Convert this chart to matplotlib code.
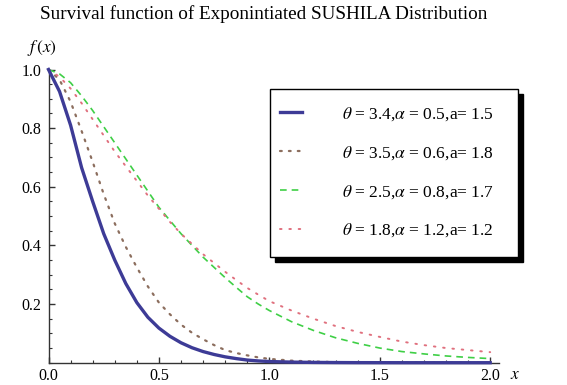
import matplotlib
matplotlib.use("Agg")
import matplotlib.pyplot as plt
import matplotlib.patches as patches
from matplotlib.ticker import MultipleLocator, FormatStrFormatter

plt.rcParams["font.family"] = ["Liberation Serif", "DejaVu Serif"]
plt.rcParams["mathtext.fontset"] = "stix"

# values
x_vals = [0.0, 0.05, 0.1, 0.15, 0.2, 0.25, 0.3, 0.35, 0.4, 0.45, 0.5,
          0.55, 0.6, 0.65, 0.7, 0.75, 0.8, 0.85, 0.9, 0.95, 1.0,
          1.1, 1.2, 1.3, 1.4, 1.5, 1.6, 1.7, 1.8, 1.9, 2.0]

surv_1 = [1.0, 0.925, 0.81, 0.665, 0.55, 0.44, 0.35, 0.27, 0.205, 0.155, 0.118,
          0.09, 0.068, 0.051, 0.038, 0.028, 0.02, 0.014, 0.009, 0.006, 0.004,
          0.002, 0.001, 0.0005, 0.0002, 0.0001, 0.0, 0.0, 0.0, 0.0, 0.0]

surv_2 = [1.0, 0.965, 0.89, 0.79, 0.685, 0.575, 0.475, 0.395, 0.325, 0.26, 0.205,
          0.165, 0.13, 0.102, 0.08, 0.06, 0.043, 0.033, 0.025, 0.018, 0.013,
          0.007, 0.004, 0.002, 0.001, 0.0005, 0.0003, 0.0002, 0.0001, 0.0, 0.0]

surv_3 = [1.0, 0.985, 0.955, 0.91, 0.86, 0.805, 0.75, 0.695, 0.64, 0.585, 0.53,
          0.485, 0.44, 0.4, 0.36, 0.325, 0.29, 0.257, 0.225, 0.2, 0.178,
          0.14, 0.11, 0.085, 0.066, 0.05, 0.038, 0.03, 0.023, 0.018, 0.014]

surv_4 = [1.0, 0.975, 0.935, 0.885, 0.83, 0.775, 0.72, 0.67, 0.62, 0.57, 0.525,
          0.48, 0.44, 0.405, 0.37, 0.34, 0.31, 0.282, 0.255, 0.232, 0.21,
          0.178, 0.15, 0.125, 0.105, 0.088, 0.072, 0.06, 0.05, 0.043, 0.036]

labels = [
    r"$\theta$ = 3.4,$\alpha$ = 0.5,a= 1.5",
    r"$\theta$ = 3.5,$\alpha$ = 0.6,a= 1.8",
    r"$\theta$ = 2.5,$\alpha$ = 0.8,a= 1.7",
    r"$\theta$ = 1.8,$\alpha$ = 1.2,a= 1.2",
]

W, H = 567, 385
fig = plt.figure(figsize=(W / 100, H / 100), dpi=100)
ax = fig.add_axes([48.5 / W, (H - 362.7) / H, (499 - 48.5) / W, (362.7 - 69.5) / H])

ax.plot(x_vals, surv_1, color="#3d3b96", lw=2.4, label=labels[0], clip_on=False, zorder=4)
ax.plot(x_vals, surv_2, color="#8c6e5e", lw=1.6, ls=(0, (0.8, 3.2)), label=labels[1],
        dash_capstyle="round", clip_on=False, zorder=3)
ax.plot(x_vals, surv_3, color="#3fcf46", lw=1.2, ls=(0, (4, 3)), label=labels[2],
        clip_on=False, zorder=3)
ax.plot(x_vals, surv_4, color="#e0707e", lw=1.4, ls=(0, (0.8, 4)), label=labels[3],
        dash_capstyle="round", clip_on=False, zorder=3)

ax.set_xlim(0, 2.04)
ax.set_ylim(0, 1.0)
for s in ["top", "right"]:
    ax.spines[s].set_visible(False)
for s in ["left", "bottom"]:
    ax.spines[s].set_color("#333333")
    ax.spines[s].set_linewidth(1.0)

ax.xaxis.set_major_locator(MultipleLocator(0.5))
ax.xaxis.set_minor_locator(MultipleLocator(0.1))
ax.yaxis.set_major_locator(MultipleLocator(0.2))
ax.yaxis.set_minor_locator(MultipleLocator(0.05))
ax.xaxis.set_major_formatter(FormatStrFormatter("%.1f"))
ax.yaxis.set_major_formatter(FormatStrFormatter("%.1f"))
ax.set_yticks([0.2, 0.4, 0.6, 0.8, 1.0])
ax.tick_params(which="both", direction="in", color="#333333", labelsize=11.5)
ax.tick_params(which="major", length=4, width=1)
ax.tick_params(which="minor", length=2.5, width=0.8)
ax.tick_params(axis="x", pad=4)
ax.tick_params(axis="y", pad=5)

fig.text(264 / W, 1 - 14 / H, "Survival function of Exponintiated SUSHILA Distribution",
         ha="center", va="center", fontsize=13.8)
fig.text(42 / W, 1 - 48 / H, r"$f\,(x)$", ha="center", va="center", fontsize=12.5)
fig.text(515 / W, 1 - 375 / H, r"$x$", ha="center", va="center", fontsize=12.5)

# legend box with shadow (Mathematica style)
bx0, by0, bx1, by1 = 270, 89, 518, 257
shadow = patches.Rectangle(((bx0 + 5) / W, 1 - (by1 + 5) / H), (bx1 - bx0) / W, (by1 - by0) / H,
                           transform=fig.transFigure, facecolor="black", edgecolor="black",
                           zorder=5)
frame = patches.Rectangle((bx0 / W, 1 - by1 / H), (bx1 - bx0) / W, (by1 - by0) / H,
                          transform=fig.transFigure, facecolor="white", edgecolor="black",
                          lw=1.0, zorder=6)
fig.patches.extend([shadow, frame])

leg = fig.legend(loc="upper left", bbox_to_anchor=(280 / W, 1 - 105 / H), frameon=False,
                 fontsize=12.5, handlelength=1.27, handletextpad=2.3, labelspacing=1.22,
                 borderpad=0, borderaxespad=0)
leg.set_zorder(7)

fig.savefig("out.png", dpi=100)
